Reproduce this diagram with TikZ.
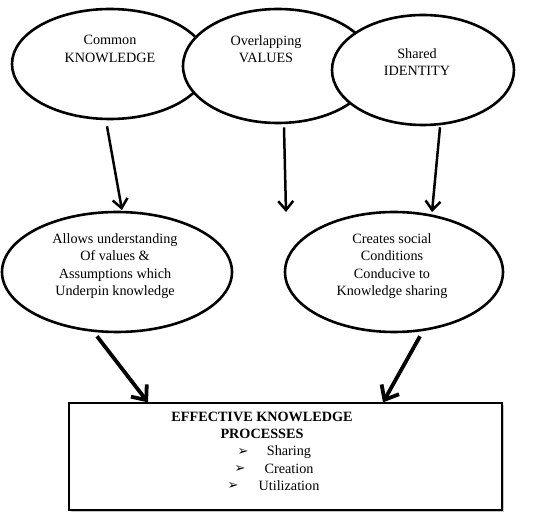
\documentclass[tikz,border=0pt]{standalone}
\usepackage{fontspec}
\setmainfont{Liberation Serif}
\newfontfamily\symfont{DejaVu Sans}
\usetikzlibrary{shapes.geometric,arrows.meta,shadows}

\begin{document}
\begin{tikzpicture}[x=1pt,y=1pt,
  oval/.style={ellipse,draw,line width=2.6pt,fill=white,inner sep=0pt},
  txt/.style={align=center,font=\fontsize{14.2}{17.3}\selectfont},
  flow/.style={-{Straight Barb[length=9pt,width=15pt]},line width=2.5pt},
  bigflow/.style={-{Straight Barb[length=12pt,width=20pt]},line width=3.8pt}]
\useasboundingbox (0,0) rectangle (547,520);
% top row of ovals
\node[oval,minimum width=196,minimum height=110] (know) at (110,456) {};
\node[oval,minimum width=190,minimum height=114] (val) at (278,454) {};
\node[oval,minimum width=182,minimum height=110] (iden) at (423,450) {};
\node[txt] (knowtxt) at (110,471) {Common\\KNOWLEDGE};
\node[txt] (valtxt) at (266,471) {Overlapping\\VALUES};
\node[txt] (identxt) at (417,458) {Shared\\IDENTITY};
% second row
\node[oval,minimum width=230,minimum height=120] (allow) at (117,248) {};
\node[oval,minimum width=218,minimum height=120] (cond) at (394,248) {};
\node[txt] (allowtxt) at (115,254) {Allows understanding\\Of values \&\\Assumptions which\\Underpin knowledge};
\node[txt] (condtxt) at (392,254) {Creates social\\Conditions\\Conducive to\\Knowledge sharing};
% processes box
\node[draw,line width=1.2pt,fill=white,minimum width=433,minimum height=107,
  drop shadow={shadow xshift=2pt,shadow yshift=-2pt,fill=black!45}] (proc) at (285.5,63.5) {};
\node[txt,font=\fontsize{14.2}{17.3}\selectfont\bfseries] (ttl1) at (262,103) {EFFECTIVE KNOWLEDGE};
\node[txt,font=\fontsize{14.2}{17.3}\selectfont\bfseries] (ttl2) at (262,86) {PROCESSES};
\node[txt] (share) at (289,68) {Sharing};
\node[txt] (creat) at (289,51) {Creation};
\node[txt] (util) at (289,34) {Utilization};
\node[font=\symfont\fontsize{13}{13}\selectfont] (b1) at (243,68) {➢};
\node[font=\symfont\fontsize{13}{13}\selectfont] (b2) at (240,51) {➢};
\node[font=\symfont\fontsize{13}{13}\selectfont] (b3) at (233,34) {➢};
% arrows
\coordinate (e1) at (122,310);
\coordinate (e2) at (286,308);
\coordinate (e3) at (432,308);
\draw[flow] ([xshift=-3pt,yshift=-6pt]know.south) -- (e1);
\draw[flow] ([xshift=6pt,yshift=-3pt]val.south) -- (e2);
\draw[flow] ([xshift=17pt,yshift=-1pt]iden.south) -- (e3);
\draw[bigflow] ([xshift=-20pt,yshift=-3pt]allow.south) -- ([xshift=-137.5pt]proc.north);
\draw[bigflow] ([xshift=26pt,yshift=-3pt]cond.south) -- ([xshift=97.5pt]proc.north);
\end{tikzpicture}
\end{document}
